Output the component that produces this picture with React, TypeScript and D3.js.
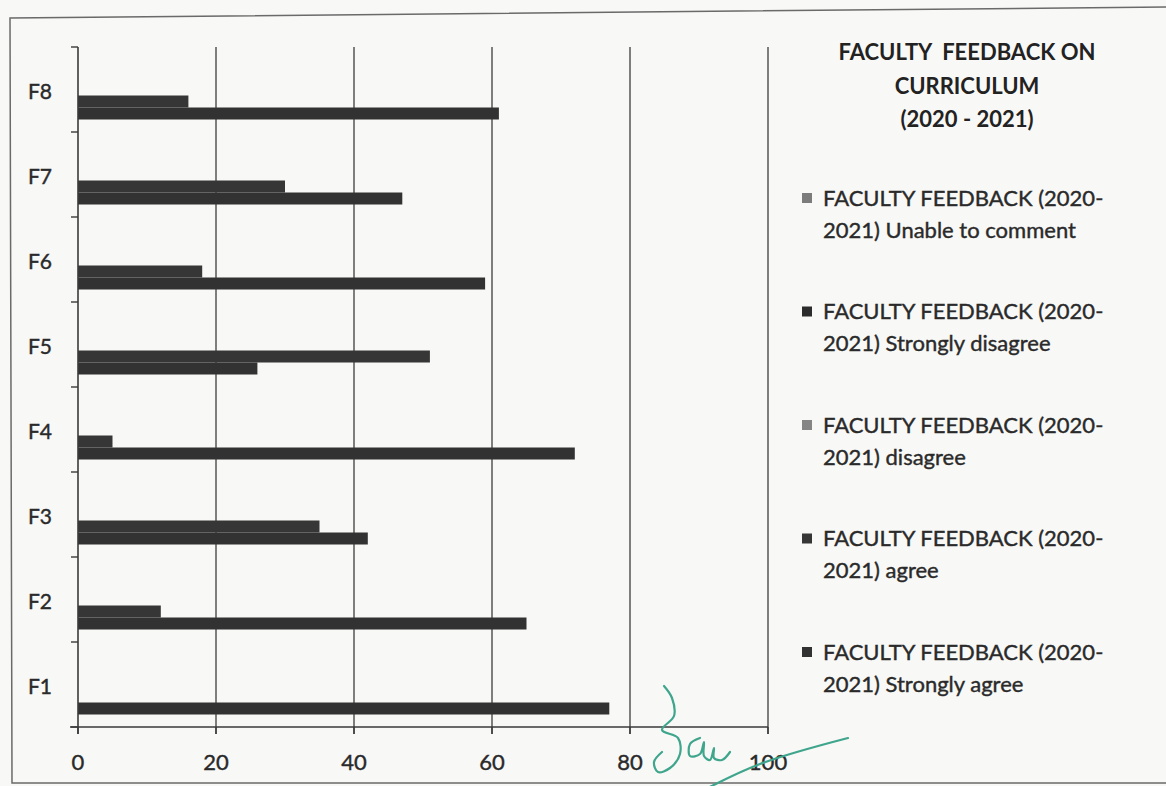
import React, { useMemo } from 'react';
import * as d3 from 'd3';

// F1..F8 questions, bottom to top
const categories = ['F1', 'F2', 'F3', 'F4', 'F5', 'F6', 'F7', 'F8'];

// series in legend order (top of each group to bottom)
const seriesNames = ['Unable to comment', 'Strongly disagree', 'disagree', 'agree', 'Strongly agree'];
const seriesColors = ['#7c7c7c', '#2c2c2c', '#858585', '#363636', '#323232'];

const unableValues = [0, 0, 0, 0, 0, 0, 0, 0];
const stronglyDisagreeValues = [0, 0, 0, 0, 0, 0, 0, 0];
const disagreeValues = [0, 0, 0, 0, 0, 0, 0, 0];
const agreeValues = [0, 12, 35, 5, 51, 18, 30, 16];
const stronglyAgreeValues = [77, 65, 42, 72, 26, 59, 47, 61];

const xTicks = [0, 20, 40, 60, 80, 100];
const titleLines = ['FACULTY  FEEDBACK ON', 'CURRICULUM', '(2020 - 2021)'];

const W = 1166;
const H = 786;
const FONT = 'Lato, "Open Sans", sans-serif';
const INK = '#2a2a2a';

export default function App() {
  const allValues = [unableValues, stronglyDisagreeValues, disagreeValues, agreeValues, stronglyAgreeValues];

  const x = useMemo(() => d3.scaleLinear().domain([0, 100]).range([78, 768]), []);
  const y = useMemo(
    () =>
      d3.scaleBand<string>()
        .domain([...categories].reverse())
        .range([47, 727])
        .paddingInner(0.294)
        .paddingOuter(0.147),
    []
  );
  const inner = useMemo(
    () => d3.scaleBand<string>().domain(seriesNames).range([0, y.bandwidth()]),
    [y]
  );

  // band boundaries for y-axis tick marks
  const step = y.step();
  const boundaries = d3.range(categories.length + 1).map((i) => 47 + i * step);

  // handwritten signature (decoration from the scan)
  const sig = d3.line().curve(d3.curveCatmullRom);
  const sigStroke1 = sig([[664, 686], [672, 698], [674, 716], [662, 730], [678, 738], [680, 754], [670, 768], [658, 772], [654, 762], [662, 752]]);
  const sigStroke2 = sig([[700, 738], [690, 744], [690, 756], [700, 754], [704, 742], [704, 756], [710, 760], [714, 748], [714, 758], [722, 760], [730, 752]]);
  const sigLine = sig([[700, 792], [760, 764], [848, 738]]);

  return (
    <svg
      width={W}
      height={H}
      viewBox={`0 0 ${W} ${H}`}
      style={{ position: 'absolute', left: 0, top: 0, background: '#f8f8f6' }}
    >
      {/* scanned page frame */}
      <path d="M1166,7 L10,18 L12,783 L1166,783" fill="none" stroke="#6a6a6a" strokeWidth={1.5} />

      {/* vertical gridlines */}
      {xTicks.filter((t) => t > 0).map((t) => (
        <line key={`g${t}`} x1={x(t)} x2={x(t)} y1={47} y2={734} stroke="#4a4a4a" strokeWidth={1.4} />
      ))}

      {/* bars */}
      {categories.map((c, ci) => (
        <g key={c} transform={`translate(0,${y(c)})`}>
          {seriesNames.map((s, si) => {
            const v = allValues[si][ci];
            if (!v) return null;
            return (
              <rect
                key={s}
                x={x(0)}
                y={inner(s)}
                width={x(v) - x(0)}
                height={inner.bandwidth()}
                fill={seriesColors[si]}
              />
            );
          })}
        </g>
      ))}

      {/* axes */}
      <line x1={x(0)} x2={x(0)} y1={47} y2={734} stroke="#3a3a3a" strokeWidth={1.6} />
      <line x1={70} x2={x(100)} y1={727} y2={727} stroke="#3a3a3a" strokeWidth={1.6} />
      {boundaries.map((b, i) => (
        <line key={`yt${i}`} x1={71} x2={x(0)} y1={b} y2={b} stroke="#3a3a3a" strokeWidth={1.4} />
      ))}
      {xTicks.map((t) => (
        <g key={`xt${t}`}>
          <line x1={x(t)} x2={x(t)} y1={727} y2={734} stroke="#3a3a3a" strokeWidth={1.4} />
          <text
            x={x(t)}
            y={770}
            textAnchor="middle"
            fontFamily={FONT}
            fontSize={22}
            fill={INK}
            stroke={INK}
            strokeWidth={0.4}
          >
            {t}
          </text>
        </g>
      ))}
      {categories.map((c) => (
        <text
          key={`yl${c}`}
          x={40}
          y={(y(c) ?? 0) + y.bandwidth() / 2 + 2}
          textAnchor="middle"
          fontFamily={FONT}
          fontSize={21}
          fill={INK}
          stroke={INK}
          strokeWidth={0.4}
          dy="0.35em"
        >
          {c}
        </text>
      ))}

      {/* title */}
      {titleLines.map((l, i) => (
        <text
          key={`t${i}`}
          x={967}
          y={60 + i * 33.5}
          textAnchor="middle"
          fontFamily={FONT}
          fontWeight="bold"
          fontSize={22}
          fill="#222"
          style={{ whiteSpace: 'pre' }}
        >
          {l}
        </text>
      ))}

      {/* legend */}
      {seriesNames.map((s, i) => {
        const cy = 198 + i * 113.5;
        return (
          <g key={`lg${s}`} fontFamily={FONT} fontSize={22} fill={INK} stroke={INK} strokeWidth={0.4}>
            <rect x={802} y={cy - 5} width={10} height={10} fill={seriesColors[i]} stroke="none" />
            <text x={823} y={cy} dy="0.35em">
              FACULTY FEEDBACK (2020-
            </text>
            <text x={823} y={cy + 32} dy="0.35em">
              {`2021) ${s}`}
            </text>
          </g>
        );
      })}

      {/* signature */}
      <g fill="none" stroke="#3fa58c" strokeWidth={2.2} strokeLinecap="round">
        <path d={sigStroke1 ?? undefined} />
        <path d={sigStroke2 ?? undefined} />
        <path d={sigLine ?? undefined} />
      </g>
    </svg>
  );
}
